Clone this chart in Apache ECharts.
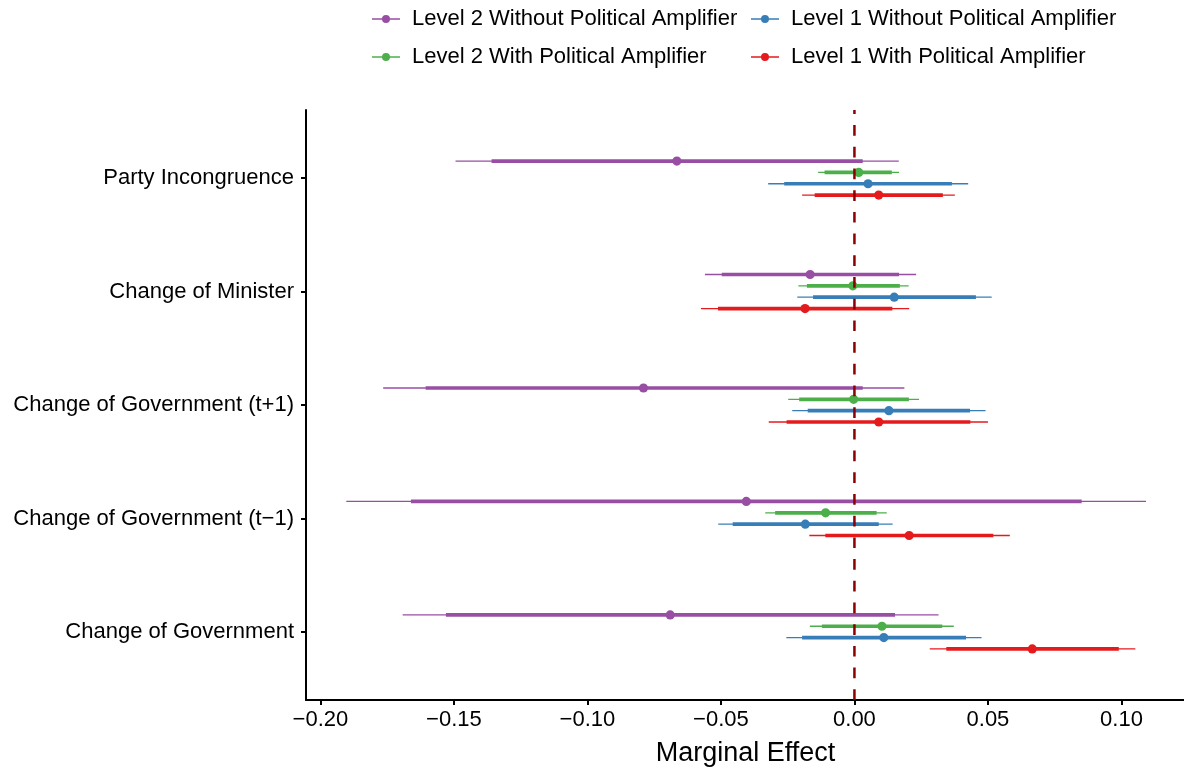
<!DOCTYPE html>
<html>
<head>
<meta charset="utf-8">
<script src="https://cdn.jsdelivr.net/npm/echarts@6/dist/echarts.min.js"></script>
<style>
  html, body { margin: 0; padding: 0; background: #fff; }
  #chart { width: 1184px; height: 769px; }
</style>
</head>
<body>
<div id="chart"></div>
<script>
// Categories from bottom (position 1) to top (position 5)
const categories = [
  'Change of Government',
  'Change of Government (t\u22121)',
  'Change of Government (t+1)',
  'Change of Minister',
  'Party Incongruence'
];

// Each row: [lower 95%, lower 90%, estimate, upper 90%, upper 95%], in category order
const level2Without = [
  [-0.1692, -0.1530, -0.0690, 0.0152, 0.0315],
  [-0.1903, -0.1661, -0.0405, 0.0851, 0.1092],
  [-0.1765, -0.1606, -0.0790, 0.0031, 0.0187],
  [-0.0560, -0.0497, -0.0166, 0.0167, 0.0231],
  [-0.1494, -0.1359, -0.0665, 0.0031, 0.0166]
];
const level2With = [
  [-0.0167, -0.0122, 0.0103, 0.0329, 0.0372],
  [-0.0334, -0.0297, -0.0108, 0.0083, 0.0121],
  [-0.0248, -0.0207, -0.0003, 0.0204, 0.0242],
  [-0.0210, -0.0178, -0.0006, 0.0170, 0.0203],
  [-0.0136, -0.0112, 0.0016, 0.0140, 0.0167]
];
const level1Without = [
  [-0.0255, -0.0196, 0.0110, 0.0418, 0.0476],
  [-0.0510, -0.0456, -0.0184, 0.0091, 0.0143],
  [-0.0233, -0.0175, 0.0129, 0.0433, 0.0491],
  [-0.0214, -0.0155, 0.0149, 0.0455, 0.0514],
  [-0.0323, -0.0263, 0.0051, 0.0365, 0.0426]
];
const level1With = [
  [0.0282, 0.0344, 0.0666, 0.0990, 0.1052],
  [-0.0169, -0.0109, 0.0205, 0.0520, 0.0582],
  [-0.0321, -0.0254, 0.0091, 0.0434, 0.0500],
  [-0.0575, -0.0511, -0.0185, 0.0142, 0.0205],
  [-0.0196, -0.0149, 0.0091, 0.0331, 0.0376]
];

const xTicks = [-0.20, -0.15, -0.10, -0.05, 0.00, 0.05, 0.10];

const FONT = '"Liberation Sans", Arial, Helvetica, sans-serif';

const seriesDefs = [
  { name: 'Level 2 Without Political Amplifier', data: level2Without, color: '#984EA3', dodge: 0.15 },
  { name: 'Level 2 With Political Amplifier',    data: level2With,    color: '#4DAF4A', dodge: 0.05 },
  { name: 'Level 1 Without Political Amplifier', data: level1Without, color: '#377EB8', dodge: -0.05 },
  { name: 'Level 1 With Political Amplifier',    data: level1With,    color: '#E41A1C', dodge: -0.15 }
];

// Point-range drawn per category: thin 95% interval, thick 90% interval, dot at estimate
function makeRenderer(color, dodge) {
  return function (params, api) {
    const y = api.value(5) + dodge;
    const at = (v) => api.coord([v, y]);
    const lo95 = at(api.value(0)), lo90 = at(api.value(1)), est = at(api.value(2));
    const hi90 = at(api.value(3)), hi95 = at(api.value(4));
    return {
      type: 'group',
      children: [
        { type: 'line', shape: { x1: lo95[0], y1: lo95[1], x2: hi95[0], y2: hi95[1] },
          style: { stroke: color, lineWidth: 1.3, lineCap: 'butt' } },
        { type: 'line', shape: { x1: lo90[0], y1: lo90[1], x2: hi90[0], y2: hi90[1] },
          style: { stroke: color, lineWidth: 3.7, lineCap: 'butt' } },
        { type: 'circle', shape: { cx: est[0], cy: est[1], r: 4.6 },
          style: { fill: color } }
      ]
    };
  };
}

const series = seriesDefs.map(s => ({
  name: s.name,
  type: 'custom',
  renderItem: makeRenderer(s.color, s.dodge),
  itemStyle: { color: s.color },
  encode: { x: [0, 1, 2, 3, 4], y: 5 },
  data: s.data.map((row, i) => row.concat([i + 1])),
  z: 2
}));

// Reference line at zero
series.push({
  type: 'custom',
  name: 'zero',
  data: [[0]],
  encode: { x: 0 },
  z: 5,
  renderItem: function (params, api) {
    const bottom = api.coord([0, 0.4]);
    const top = api.coord([0, 5.6]);
    return {
      type: 'line',
      shape: { x1: bottom[0], y1: bottom[1], x2: top[0], y2: top[1] },
      style: { stroke: '#8B0000', lineWidth: 2.5, lineDash: [10.7, 11], lineCap: 'butt' }
    };
  }
});

const iconPath = 'path://M0,4.3 L28,4.3 L28,5.7 L0,5.7 Z M10,5 A4,4 0 1,1 18,5 A4,4 0 1,1 10,5 Z';

function legendBlock(left, names) {
  return {
    left: left,
    top: 8,
    orient: 'vertical',
    itemWidth: 28,
    itemHeight: 8,
    itemGap: 16,
    padding: 0,
    icon: iconPath,
    textStyle: { fontFamily: FONT, fontSize: 22, color: '#000', lineHeight: 22, padding: [0, 0, 0, 7] },
    data: names
  };
}

const chart = echarts.init(document.getElementById('chart'));
chart.setOption({
  backgroundColor: '#fff',
  animation: false,
  legend: [
    legendBlock(372, [seriesDefs[0].name, seriesDefs[1].name]),
    legendBlock(751, [seriesDefs[2].name, seriesDefs[3].name])
  ],
  grid: { left: 306, top: 110, width: 879, height: 590, containLabel: false, outerBoundsMode: 'none' },
  xAxis: {
    type: 'value',
    min: -0.2054,
    max: 0.1238,
    name: 'Marginal Effect',
    nameLocation: 'middle',
    nameGap: 40,
    nameTextStyle: { fontFamily: FONT, fontSize: 27, color: '#000' },
    axisLine: { show: true, onZero: false, lineStyle: { color: '#000', width: 2 } },
    axisTick: { show: true, length: 5, lineStyle: { color: '#000', width: 2 }, customValues: xTicks },
    axisLabel: {
      fontFamily: FONT, fontSize: 22, color: '#000', margin: 9,
      customValues: xTicks,
      formatter: v => (v < -1e-9 ? '\u2212' : '') + Math.abs(v).toFixed(2)
    },
    splitLine: { show: false }
  },
  yAxis: {
    type: 'value',
    min: 0.4,
    max: 5.6,
    axisLine: { show: true, onZero: false, lineStyle: { color: '#000', width: 2 } },
    axisTick: { show: true, length: 5, lineStyle: { color: '#000', width: 2 }, customValues: [1, 2, 3, 4, 5] },
    axisLabel: {
      fontFamily: FONT, fontSize: 22, color: '#000', margin: 12,
      padding: [4, 0, 0, 0],
      customValues: [1, 2, 3, 4, 5],
      formatter: v => categories[Math.round(v) - 1]
    },
    splitLine: { show: false }
  },
  series: series
});
</script>
</body>
</html>
